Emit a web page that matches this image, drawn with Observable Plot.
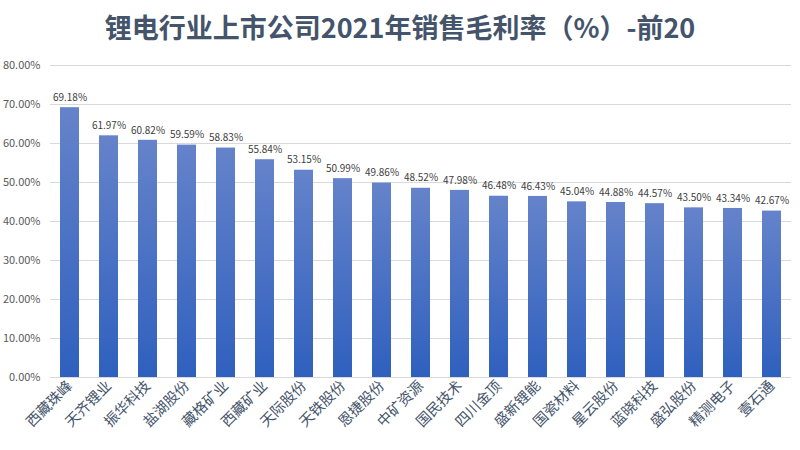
<!DOCTYPE html>
<html><head><meta charset="utf-8">
<script src="https://cdn.jsdelivr.net/npm/d3@7"></script>
<script src="https://cdn.jsdelivr.net/npm/@observablehq/plot@0.6"></script>
<style>
body{margin:0;background:#fff;font-family:"Noto Sans CJK SC","Noto Sans",sans-serif;}
#wrap{width:800px;height:450px;position:relative;overflow:hidden;}
#title{height:50px;line-height:54px;text-align:center;font-size:27px;font-weight:bold;color:#44546a;letter-spacing:0px;}
</style></head>
<body><div id="wrap"><div id="title">锂电行业上市公司2021年销售毛利率（%）-前20</div><div id="chart"></div></div>
<script>
const companies = ["西藏珠峰","天齐锂业","振华科技","盐湖股份","藏格矿业","西藏矿业","天际股份","天铁股份","恩捷股份","中矿资源","国民技术","四川金顶","盛新锂能","国瓷材料","星云股份","蓝晓科技","盛弘股份","精测电子","壹石通"];
const margins = [69.18,61.97,60.82,59.59,58.83,55.84,53.15,50.99,49.86,48.52,47.98,46.48,46.43,45.04,44.88,44.57,43.50,43.34,42.67];
const yTicks = [0,10,20,30,40,50,60,70,80];

const data = companies.map((c,i)=>({company:c, value:margins[i]}));

const chart = Plot.plot({
  width:800, height:400,
  marginTop:15, marginBottom:73, marginLeft:50, marginRight:9,
  style:{fontFamily:'"Noto Sans CJK SC","Noto Sans",sans-serif', background:"#fff"},
  x:{domain:companies, paddingInner:0.51, paddingOuter:0.255, label:null},
  y:{domain:[0,80], label:null},
  marks:[
    Plot.gridY(yTicks,{stroke:"#d9d9d9", strokeOpacity:1}),
    Plot.axisY(yTicks,{tickSize:0, tickPadding:10, tickFormat:d=>d.toFixed(2)+"%", fontSize:11, fill:"#595959"}),
    Plot.barY(data,{x:"company", y:"value", fill:"url(#barGrad)"}),
    Plot.text(data,{x:"company", y:"value", text:d=>d.value.toFixed(2)+"%", dy:-10, fontSize:10, fill:"#404040"}),
    Plot.ruleY([0],{stroke:"#d9d9d9"}),
    Plot.axisX({tickSize:0, tickPadding:6, tickRotate:-45, fontSize:14.5, fill:"#44546a"})
  ]
});
const ns="http://www.w3.org/2000/svg";
const defs=document.createElementNS(ns,"defs");
defs.innerHTML='<linearGradient id="barGrad" x1="0" y1="0" x2="0" y2="1"><stop offset="0" stop-color="#6583ca"/><stop offset="1" stop-color="#2f60be"/></linearGradient>';
chart.insertBefore(defs, chart.firstChild);
document.getElementById("chart").appendChild(chart);
</script></body></html>
